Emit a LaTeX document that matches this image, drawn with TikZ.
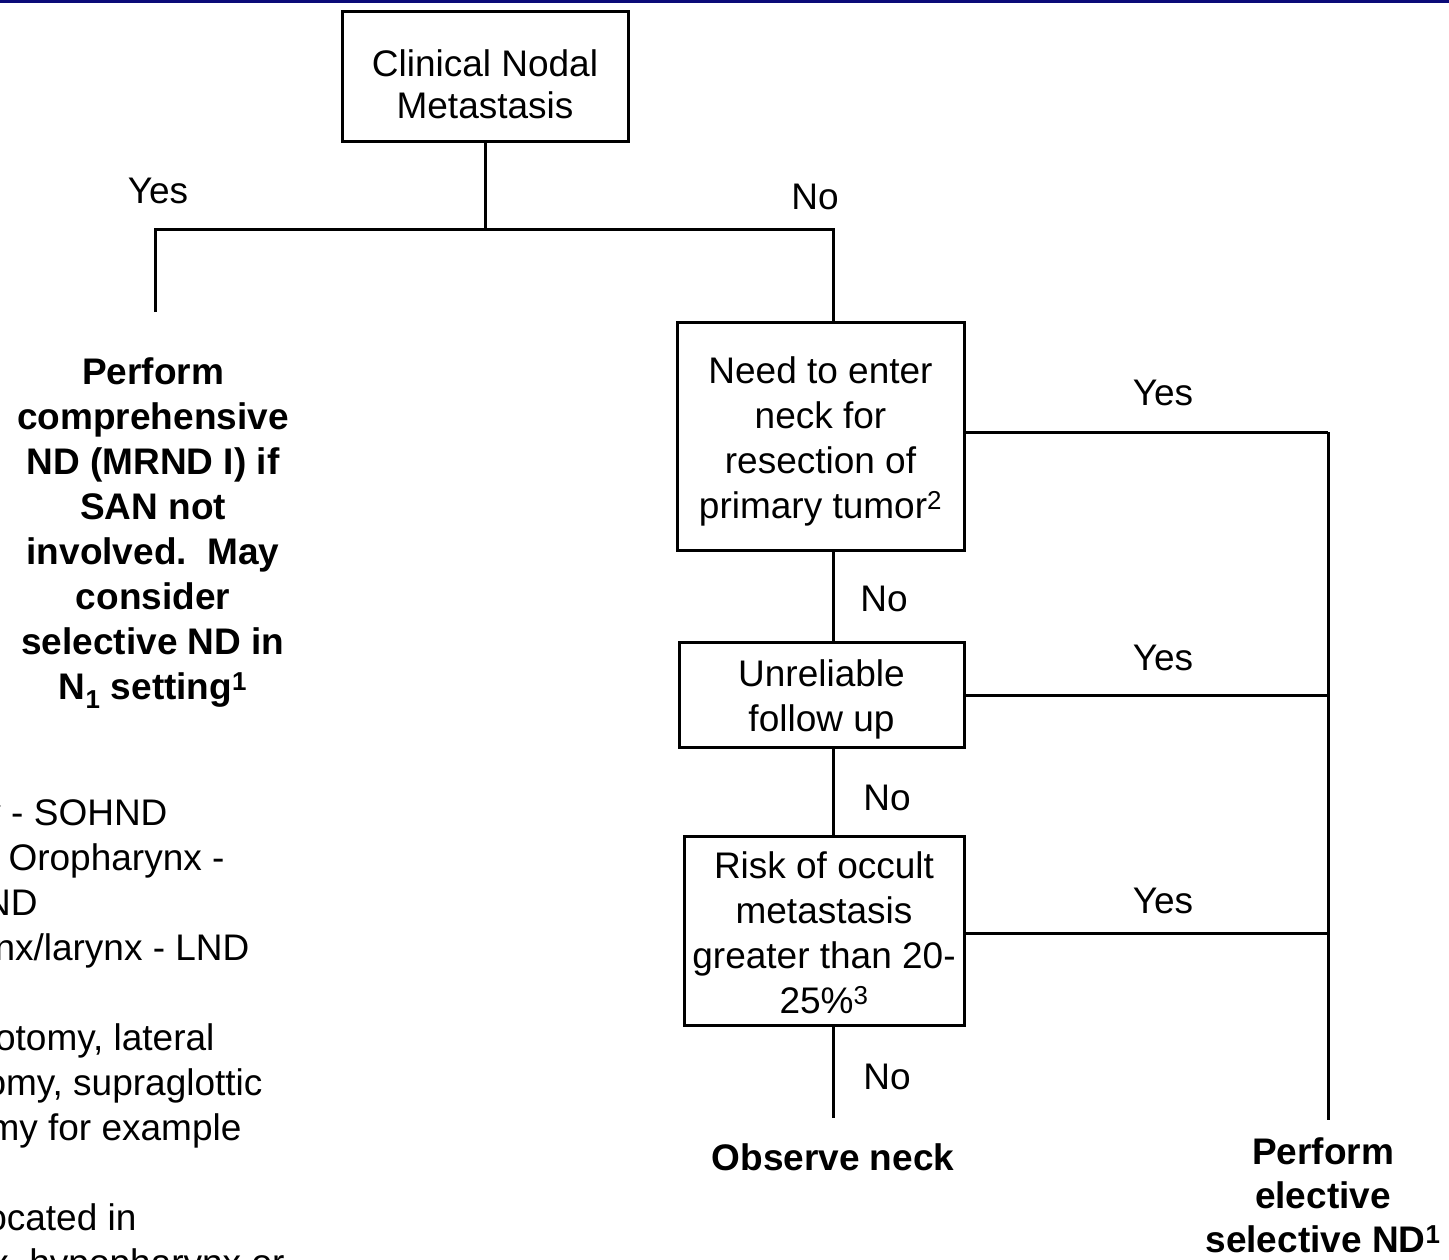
\documentclass[tikz,border=0pt]{standalone}
\usepackage{fontspec}
\setmainfont{Liberation Sans}
\newcommand\fsz{\fontsize{37}{45}\selectfont}
\newcommand\fszb{\fontsize{37}{45}\selectfont\bfseries}
\definecolor{topnavy}{RGB}{10,10,120}
\begin{document}
\begin{tikzpicture}[x=1pt,y=-1pt,line width=3pt,
  box/.style={draw,line width=3pt,inner sep=0pt},
  boxtext/.style={align=center,inner sep=0pt,font=\fsz},
  lbl/.style={font=\fsz,inner sep=0pt},
  bld/.style={font=\fszb,align=center,inner sep=0pt},
  foot/.style={font=\fsz,inner sep=0pt,anchor=mid east}]
\useasboundingbox (0,0) rectangle (1449,1260);
\clip (0,0) rectangle (1449,1260);
\fill[topnavy] (0,0) rectangle (1449,3);

% boxes
\node[box,minimum width=286pt,minimum height=130pt] (top) at (485,77) {};
\node[box,minimum width=287pt,minimum height=228pt] (need) at (820.5,436) {};
\node[box,minimum width=285pt,minimum height=105pt] (unrel) at (821.5,694.5) {};
\node[box,minimum width=280pt,minimum height=189pt] (risk) at (824,930.5) {};
\node[boxtext] (topt) at ([yshift=-7pt]top.center) {Clinical Nodal\\[-3pt]Metastasis};
\node[boxtext] (needt) at ([yshift=-5pt]need.center) {Need to enter\\neck for\\resection of\\primary tumor\textsuperscript{2}};
\node[boxtext] (unrelt) at ([yshift=-5pt]unrel.center) {Unreliable\\follow up};
\node[boxtext] (riskt) at ([yshift=-2pt]risk.center) {Risk of occult\\metastasis\\greater than 20-\\25\%\textsuperscript{3}};

% outcomes
\node[bld] (comp) at (153,533) {Perform\\comprehensive\\ND (MRND I) if\\SAN not\\involved.\ \ May\\consider\\selective ND in\\N\textsubscript{1} setting\textsuperscript{1}};
\node[bld] (obs) at (833,1157) {Observe neck};
\node[bld,anchor=north] (elec) at (1323,1136) {Perform\\[-1pt]elective\\[-1pt]selective ND\textsuperscript{1}};

% junction coordinates
\coordinate (jm) at (485,230);
\coordinate (jl) at (155,230);
\coordinate (jr) at (833,230);
\coordinate (lend) at (155,312);
\coordinate (obsend) at (833,1118);
\coordinate (r1) at (1328,432);
\coordinate (r2) at (1328,695);
\coordinate (r3) at (1328,933);
\coordinate (rend) at (1328,1120);

% connectors
\draw (top.south) -- (jm);
\draw (lend) -- (jl) -- (jr) -- (jr |- need.north);
\draw (jr |- need.south) -- (jr |- unrel.north);
\draw (jr |- unrel.south) -- (jr |- risk.north);
\draw (jr |- risk.south) -- (obsend);
\draw (need.east |- r1) -- (r1);
\draw (unrel.east |- r2) -- (r2);
\draw (risk.east |- r3) -- (r3);
\draw (r1) -- (rend);

% labels
\node[lbl] (y0) at (158,191) {Yes};
\node[lbl] (n0) at (815,197) {No};
\node[lbl] (n1) at (884,599) {No};
\node[lbl] (n2) at (887,798) {No};
\node[lbl] (n3) at (887,1077) {No};
\node[lbl] (y1) at (1163,393) {Yes};
\node[lbl] (y2) at (1163,658) {Yes};
\node[lbl] (y3) at (1163,901) {Yes};

% footnotes (cut off at the left edge, as in the reference)
\node[foot] (f1) at (169,823) {Oral cavity - SOHND};
\node[foot] (f2) at (226,868) {Oral cavity, Oropharynx -};
\node[foot] (f3) at (39,913) {SOHND};
\node[foot] (f4) at (251,958) {Hypopharynx/larynx - LND};
\node[foot] (f5) at (216,1048) {pharyngotomy, lateral};
\node[foot] (f6) at (264,1093) {pharyngotomy, supraglottic};
\node[foot] (f7) at (243,1138) {laryngectomy for example};
\node[foot] (f8) at (138,1228) {Tumors located in};
\node[foot] (f9) at (286,1273) {oropharynx, hypopharynx or};
\end{tikzpicture}
\end{document}
